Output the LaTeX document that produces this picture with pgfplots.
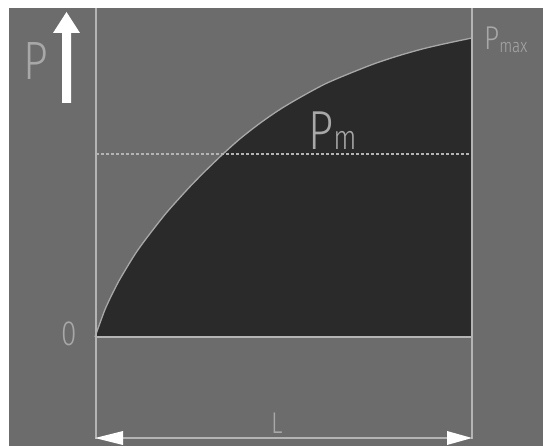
\documentclass[border=0pt]{standalone}
\usepackage{pgfplots}
\pgfplotsset{compat=1.18}
\usepackage{fontspec}
\setmainfont{Fira Sans}[UprightFont={* Light}]
\newfontfamily\lf{Fira Sans}[UprightFont={* Light},FakeStretch=0.8]
\definecolor{bg}{HTML}{6C6C6C}
\definecolor{dk}{HTML}{2A2A2A}
\definecolor{ln}{HTML}{B4B4B4}
\definecolor{tx}{HTML}{A8A8A8}
\begin{document}
\begin{tikzpicture}
\begin{axis}[x=1pt,y=1pt,xmin=0,xmax=543,ymin=0,ymax=446,y dir=reverse,hide axis,clip=true]
% backgrounds
\addplot[fill=white,draw=none] coordinates {(0,0)(543,0)(543,446)(0,446)} -- cycle;
\addplot[fill=bg,draw=none] coordinates {(9,8)(543,8)(543,446)(9,446)} -- cycle;
% filled area under curve
\addplot[fill=dk,draw=none,smooth] coordinates {(95,337)(98,328.5)(102,317.5)(105,309.5)(110,298.5)(115,288.5)(120,279)(132,259)(140,247)(152,231)(165,214.5)(175,203)(190,186.6)(205,171.3)(223,154)(240,138.8)(260,123.2)(280,109.4)(300,97.5)(325,84)(350,73.3)(375,63.5)(400,55.3)(425,48.3)(450,42.6)(472,38)} -- (axis cs:472,337) -- cycle;
% curve outline
\addplot[draw=tx,line width=1.3pt,smooth] coordinates {(95,337)(98,328.5)(102,317.5)(105,309.5)(110,298.5)(115,288.5)(120,279)(132,259)(140,247)(152,231)(165,214.5)(175,203)(190,186.6)(205,171.3)(223,154)(240,138.8)(260,123.2)(280,109.4)(300,97.5)(325,84)(350,73.3)(375,63.5)(400,55.3)(425,48.3)(450,42.6)(472,38)};
% vertical lines
\addplot[draw=ln,line width=2pt] coordinates {(96,8)(96,439)};
\addplot[draw=ln,line width=2pt] coordinates {(472,8)(472,439)};
% baseline
\addplot[draw=ln,line width=1.6pt] coordinates {(96,337)(472,337)};
% dashed Pm line
\addplot[draw=ln,line width=1.3pt,dash pattern=on 3pt off 2pt] coordinates {(96,154)(472,154)};
% dimension line L
\addplot[draw=ln,line width=2pt] coordinates {(120,438)(450,438)};
\addplot[fill=white,draw=none] coordinates {(95,438)(123,431)(123,445)} -- cycle;
\addplot[fill=white,draw=none] coordinates {(472,438)(447,431)(447,445)} -- cycle;
% up arrow
\addplot[fill=white,draw=none] coordinates {(62,103)(62,33)(53,33)(66.5,12)(80,33)(71,33)(71,103)} -- cycle;
% labels
\node[anchor=base west,inner sep=0pt,text=tx,font=\lf\fontsize{54}{54}\selectfont] at (axis cs:23,80) {P};
\node[anchor=base west,inner sep=0pt,text=tx,font=\lf\fontsize{35}{35}\selectfont] at (axis cs:61,345) {0};
\node[anchor=base west,inner sep=0pt,text=tx,font=\lf\fontsize{33}{33}\selectfont] at (axis cs:484,50) {P\raisebox{-3pt}{\fontsize{19}{19}\selectfont max}};
\node[anchor=base west,inner sep=0pt,text=tx,font=\lf\fontsize{55}{55}\selectfont] at (axis cs:308,150) {P\fontsize{34}{34}\selectfont m};
\node[anchor=base west,inner sep=0pt,text=tx,font=\lf\fontsize{30}{30}\selectfont] at (axis cs:271,433) {L};
\end{axis}
\end{tikzpicture}
\end{document}
